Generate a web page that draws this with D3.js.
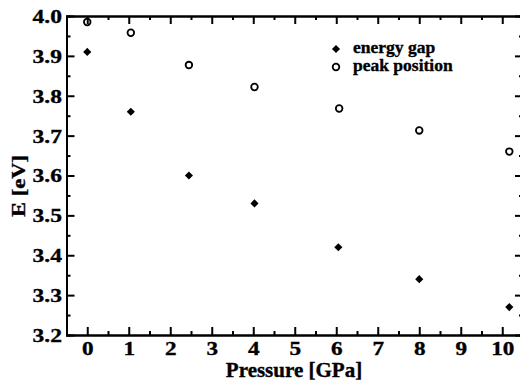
<!DOCTYPE html>
<html>
<head>
<meta charset="utf-8">
<script src="https://cdn.jsdelivr.net/npm/d3@7"></script>
<style>
    body { margin: 0; background: #fff; }
    text { font-family: 'Liberation Serif', 'Times New Roman', serif; font-weight: bold; fill: #000;
           stroke: #000; stroke-width: 0.35px; }
</style>
</head>
<body>
<svg id="chart"></svg>
<script>
// pressure values (GPa) for each measurement
const gapPressure = [0, 1.05, 2.45, 4.03, 6.05, 8.0, 10.17];
const gapEnergy = [3.91, 3.76, 3.60, 3.53, 3.42, 3.34, 3.27];

const peakPressure = [0, 1.05, 2.45, 4.03, 6.07, 8.0, 10.17];
const peakEnergy = [3.985, 3.958, 3.877, 3.822, 3.768, 3.713, 3.66];

const xTicks = [0, 1, 2, 3, 4, 5, 6, 7, 8, 9, 10];
const yTicks = [3.2, 3.3, 3.4, 3.5, 3.6, 3.7, 3.8, 3.9, 4.0];
const seriesNames = ['energy gap', 'peak position'];

const config = {
    width: 520,
    height: 381,
    margin: { top: 16, right: -3, bottom: 46, left: 66.5 }
};

const svg = d3.select('#chart')
    .attr('width', config.width)
    .attr('height', config.height);

const innerW = config.width - config.margin.left - config.margin.right;
const innerH = config.height - config.margin.top - config.margin.bottom;

const xScale = d3.scaleLinear()
    .domain([-0.5, 10.5])
    .range([0, innerW]);

const yScale = d3.scaleLinear()
    .domain([3.2, 4.0])
    .range([innerH, 0]);

const chart = svg.append('g')
    .attr('transform', `translate(${config.margin.left},${config.margin.top})`);

const xMinor = d3.range(-0.5, 10.51, 0.5).filter(d => !xTicks.includes(d));
const yMinor = d3.range(3.25, 4.0, 0.1).map(d => +d.toFixed(2));

// minor + major ticks, all pointing inward
function drawAxis(axisFn, scale, major, minor, transform, labels) {
    const gMinor = chart.append('g').attr('transform', transform)
        .call(axisFn(scale).tickValues(minor).tickSize(-4).tickFormat(''));
    const gMajor = chart.append('g').attr('transform', transform)
        .call(axisFn(scale).tickValues(major).tickSize(-8).tickSizeOuter(0)
            .tickFormat(labels ? labels : ''));
    [gMinor, gMajor].forEach(g => {
        g.selectAll('.domain').attr('stroke-width', 2).attr('stroke', '#000');
        g.selectAll('.tick line').attr('stroke-width', 2).attr('stroke', '#000');
    });
    return gMajor;
}

const xAxisG = drawAxis(d3.axisBottom, xScale, xTicks, xMinor, `translate(0,${innerH})`, d3.format('d'));
xAxisG.selectAll('.tick text')
    .attr('font-size', 19)
    .attr('y', 7)
    .attr('dy', '0.71em')
    .attr('transform', 'scale(1.22,1)');

const yAxisG = drawAxis(d3.axisLeft, yScale, yTicks, yMinor, 'translate(0,0)', d3.format('.1f'));
yAxisG.selectAll('.tick text')
    .attr('font-size', 19)
    .attr('x', -3.6)
    .attr('dy', '0.34em')
    .attr('transform', 'scale(1.24,1)');

drawAxis(d3.axisTop, xScale, xTicks, xMinor, 'translate(0,0)', null);
drawAxis(d3.axisRight, yScale, yTicks, yMinor, `translate(${innerW},0)`, null);

chart.selectAll('.domain').attr('fill', 'none');

// axis titles
svg.append('text')
    .attr('x', 294)
    .attr('y', 377)
    .attr('text-anchor', 'middle')
    .attr('font-size', 21)
    .text('Pressure [GPa]');

svg.append('text')
    .attr('transform', 'translate(25,186) rotate(-90) scale(1.25,1)')
    .attr('text-anchor', 'middle')
    .attr('font-size', 18)
    .text('E [eV]');

// data markers
const diamond = d3.symbol().type(d3.symbolDiamond2).size(42);

chart.selectAll('.gap')
    .data(gapPressure.map((p, i) => [p, gapEnergy[i]]))
    .join('path')
    .attr('class', 'gap')
    .attr('d', diamond)
    .attr('transform', d => `translate(${xScale(d[0])},${yScale(d[1])})`)
    .attr('fill', '#000');

chart.selectAll('.peak')
    .data(peakPressure.map((p, i) => [p, peakEnergy[i]]))
    .join('circle')
    .attr('class', 'peak')
    .attr('cx', d => xScale(d[0]))
    .attr('cy', d => yScale(d[1]))
    .attr('r', 3.3)
    .attr('fill', 'none')
    .attr('stroke', '#000')
    .attr('stroke-width', 1.8);

// legend
const legend = svg.append('g')
    .attr('transform', 'translate(336,49)');

legend.append('path')
    .attr('d', diamond)
    .attr('fill', '#000');

legend.append('circle')
    .attr('cy', 18)
    .attr('r', 3.3)
    .attr('fill', 'none')
    .attr('stroke', '#000')
    .attr('stroke-width', 1.8);

legend.selectAll('.legend-label')
    .data(seriesNames)
    .join('text')
    .attr('class', 'legend-label')
    .attr('transform', (d, i) => `translate(17,${i * 18 + 3.5}) scale(1.03,1)`)
    .attr('font-size', 17)
    .text(d => d);
</script>
</body>
</html>
